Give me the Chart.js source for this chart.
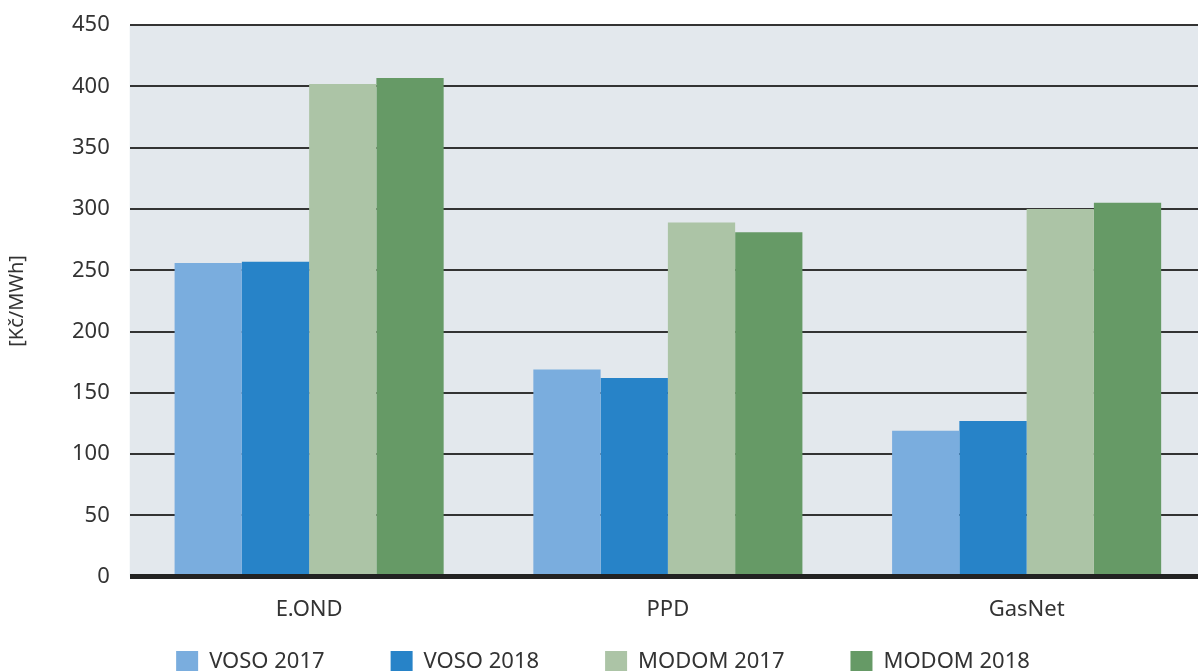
<!DOCTYPE html>
<html>
<head>
<meta charset="utf-8">
<script src="https://cdn.jsdelivr.net/npm/chart.js@4/dist/chart.umd.min.js"></script>
<style>
  html, body { margin: 0; padding: 0; background: #fff; overflow: hidden; }
  #wrap { width: 1206px; height: 741px; margin-top: -8px; }
</style>
</head>
<body>
<div id="wrap"><canvas id="chart" width="1206" height="741"></canvas></div>
<script>
// ── DATA ─────────────────────────────────────────────
const kategorie = ['E.OND', 'PPD', 'GasNet'];
const voso2017 = [256, 169, 119];
const voso2018 = [257, 162, 127];
const modom2017 = [402, 289, 300];
const modom2018 = [407, 281, 305];

const BARVY = {
    voso17: '#7aadde',
    voso18: '#2783c8',
    modom17: '#acc4a6',
    modom18: '#669a66',
};

Chart.defaults.font.family = '"Noto Sans", sans-serif';
Chart.defaults.color = '#333';

// pozadí plochy grafu
const pozadi = {
    id: 'pozadi',
    beforeDraw(chart) {
        const { ctx, chartArea: a } = chart;
        ctx.save();
        ctx.fillStyle = '#e3e8ed';
        ctx.fillRect(a.left, a.top, a.right - a.left, a.bottom - a.top);
        ctx.restore();
    }
};

// legenda posunutá blíž k ose x (vodorovné mezery jsou velké)
const posunLegendy = {
    id: 'posunLegendy',
    afterLayout(chart) {
        const lg = chart.legend;
        if (!lg) return;
        lg.top -= 50;
        lg.bottom -= 50;
    }
};

function sada(label, data, barva) {
    return {
        label,
        data,
        backgroundColor: barva,
        borderWidth: 0,
        categoryPercentage: 0.75,
        barPercentage: 1.0,
    };
}

new Chart(document.getElementById('chart'), {
    type: 'bar',
    data: {
        labels: kategorie,
        datasets: [
            sada('VOSO 2017', voso2017, BARVY.voso17),
            sada('VOSO 2018', voso2018, BARVY.voso18),
            sada('MODOM 2017', modom2017, BARVY.modom17),
            sada('MODOM 2018', modom2018, BARVY.modom18),
        ],
    },
    options: {
        responsive: false,
        animation: false,
        layout: { padding: { top: 5, right: 0, left: 0, bottom: 0 } },
        plugins: {
            legend: {
                position: 'bottom',
                labels: {
                    boxWidth: 22,
                    boxHeight: 22,
                    padding: 66,
                    color: '#333',
                    font: { size: 22 },
                },
            },
            tooltip: { enabled: false },
        },
        scales: {
            x: {
                grid: { display: false },
                border: { display: false },
                ticks: { color: '#333', font: { size: 22 }, padding: 12 },
            },
            y: {
                min: 0,
                max: 450,
                ticks: {
                    stepSize: 50,
                    color: '#333',
                    font: { size: 22 },
                    padding: 20,
                },
                grid: {
                    drawTicks: false,
                    color: c => c.tick && c.tick.value === 0 ? '#222' : '#333',
                    lineWidth: c => c.tick && c.tick.value === 0 ? 5 : 2,
                },
                border: { display: false },
                title: {
                    display: true,
                    text: '[Kč/MWh]',
                    color: '#333',
                    font: { size: 20 },
                    padding: { top: 5, bottom: 23 },
                },
            },
        },
    },
    plugins: [pozadi, posunLegendy],
});
</script>
</body>
</html>
